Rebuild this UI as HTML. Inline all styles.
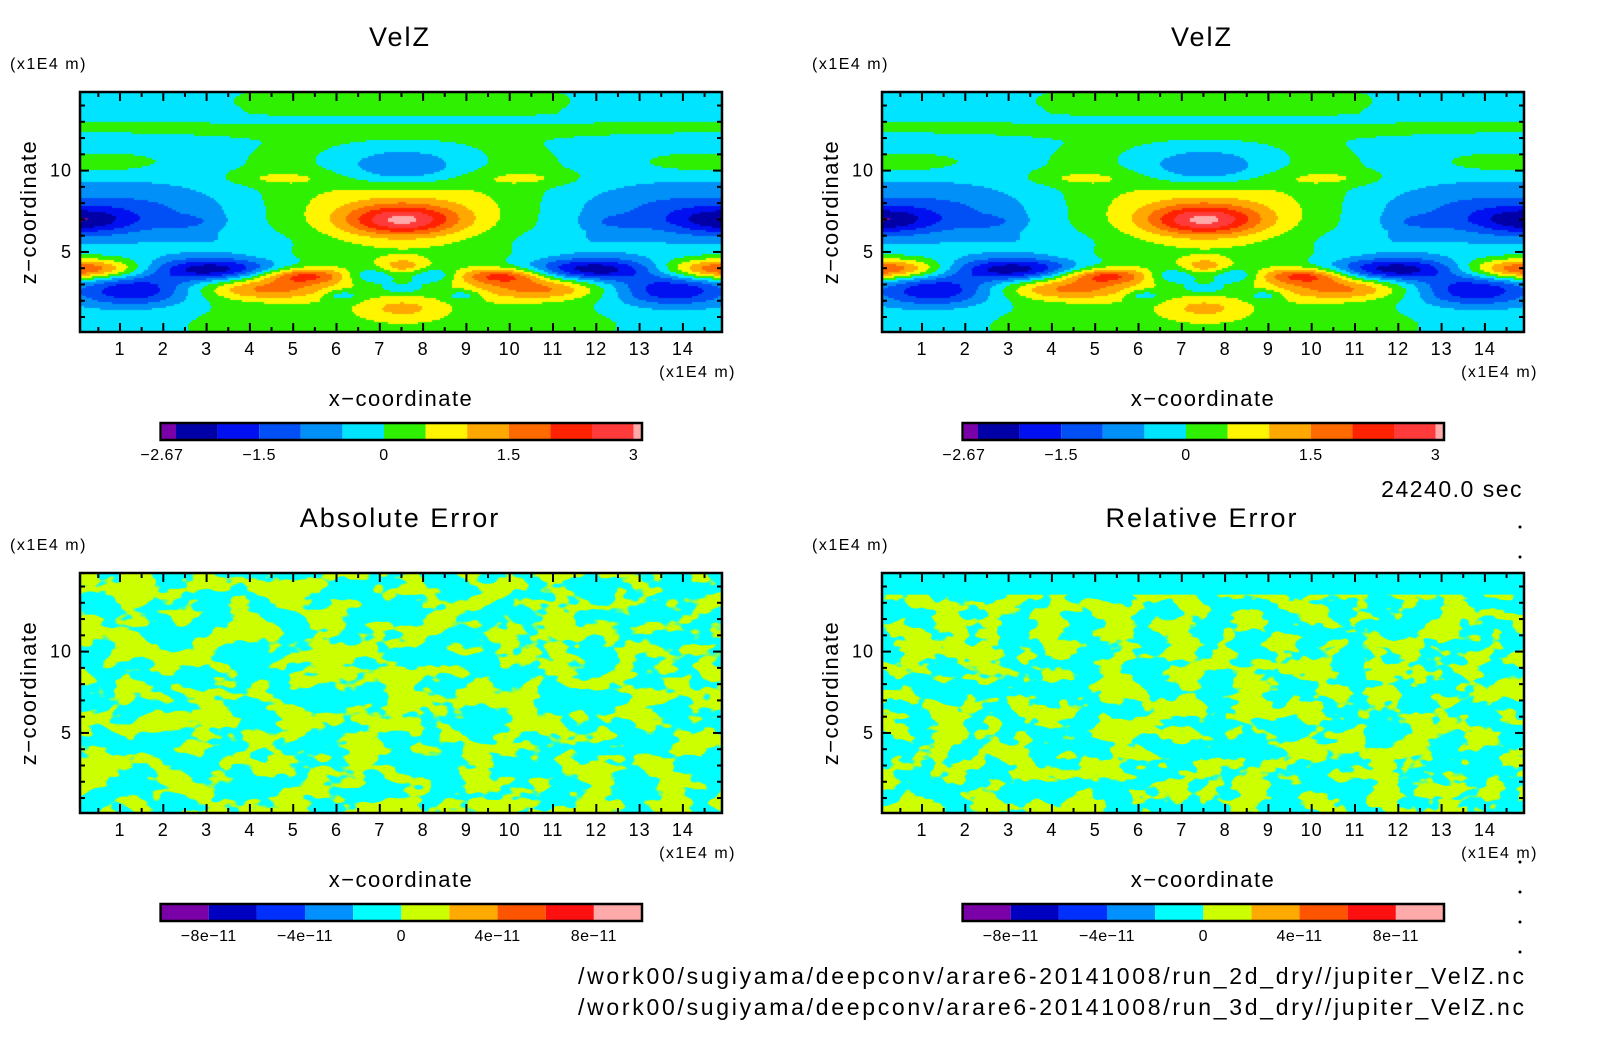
<!DOCTYPE html>
<html><head><meta charset="utf-8">
<style>
html,body{margin:0;padding:0;background:#fff;}
#wrap{position:relative;width:1604px;height:1054px;overflow:hidden;font-family:"Liberation Sans",sans-serif;}
canvas{position:absolute;}
svg{position:absolute;left:0;top:0;}
</style></head>
<body>
<div id="wrap">
<canvas id="cvTL" width="642" height="240" style="left:80px;top:92px"></canvas>
<canvas id="cvTR" width="642" height="240" style="left:882px;top:92px"></canvas>
<svg id="svg" width="1604" height="1054" xmlns="http://www.w3.org/2000/svg">
<defs>
<filter id="noiseA" x="0" y="0" width="100%" height="100%">
<feTurbulence type="fractalNoise" baseFrequency="0.026 0.045" numOctaves="3" seed="7" result="n"/>
<feColorMatrix in="n" type="matrix" values="0 0 0 0 0  0 0 0 0 0  0 0 0 0 0  24 0 0 0 -11.8" result="a"/>
<feFlood flood-color="#ccff00" result="f"/>
<feComposite in="f" in2="a" operator="in"/>
</filter>
<filter id="noiseB" x="0" y="0" width="100%" height="100%">
<feTurbulence type="fractalNoise" baseFrequency="0.03 0.05" numOctaves="3" seed="19" result="n"/>
<feColorMatrix in="n" type="matrix" values="0 0 0 0 0  0 0 0 0 0  0 0 0 0 0  24 0 0 0 -11.8" result="a"/>
<feFlood flood-color="#ccff00" result="f"/>
<feComposite in="f" in2="a" operator="in"/>
</filter>
</defs>
</svg>
</div>
<script>
// ---- data: VelZ field modelled as gaussian bumps (left half, mirrored about x=7.5)
const bumpX   = [7.5, 7.5, 7.5, 7.5, 7.5, 0.3, 0,   1.5, 2.5, 0,   3.1, 1.3, 5.2, 4.3, 7.5, 7.5, 7.5, 6.8, 6.1, 7.5, 7.5, 7.5, 4.6, 3.8];
const bumpZ   = [6.0, 0.5, 12.8,13.1,14.5,10.5,7.0, 7.6, 6.9, 4.0, 4.0, 2.7, 3.6, 2.8, 7.0, 7.8, 10.3,3.6, 2.4, 2.8, 4.2, 1.6, 9.6, 5.6];
const bumpAmp = [0.6, 0.3, 0.4, -0.7,0.3, 0.5, -1.6,-1.0,-0.5,2.4, -2.3,-1.8,1.9, 1.5, 2.3, 0.7, -1.3,-0.9,-0.8,-0.6,1.0, 0.8, 0.55,-0.35];
const bumpSx  = [3.5, 3.5, 20,  3.3, 3.0, 1.1, 0.9, 2.3, 0.5, 1.1, 1.1, 1.0, 0.7, 1.1, 0.9, 2.6, 1.0, 0.4, 0.3, 0.45,0.4, 0.55,0.7, 1.2];
const bumpSz  = [6.0, 1.5, 0.35,0.2, 0.8, 0.5, 0.6, 1.3, 0.3, 0.45,0.5, 0.7, 0.35,0.5, 0.65,1.3, 0.8, 0.35,0.25,0.25,0.35,0.4, 0.3, 0.6];
const baseValue = -0.25;
const velLevels = [-2.5,-2,-1.5,-1,-0.5,0,0.5,1,1.5,2,2.5,3];
const velColors = ["#7a00a8","#0000a6","#0010f0","#0050f5","#0090f8","#00e4ff","#2ef000","#fff500","#ffa800","#ff6a00","#ff2200","#ff3a3a","#ffaaaa"];
const velTickVals = [-2.67,-1.5,0,1.5,3];
const velTickLabels = ["\u22122.67","\u22121.5","0","1.5","3"];
const errColors = ["#7a00a8","#0000c0","#0030ff","#0090ff","#00ffff","#ccff00","#ffaa00","#ff5500","#ff1010","#ffaaaa"];
const errTickVals = [-8e-11,-4e-11,0,4e-11,8e-11];
const errTickLabels = ["\u22128e\u221211","\u22124e\u221211","0","4e\u221211","8e\u221211"];
const xTicks = [1,2,3,4,5,6,7,8,9,10,11,12,13,14];
const zTicks = [5,10];

const X0=76.7, XU=43.3, Z0=333.3, ZU=16.27;
function xs(x,ox){return ox+X0+XU*x;}
function zs(z,oy){return oy+Z0-ZU*z;}
const PL=80,PR=722,PT=92,PB=332;

function field(x,z){
  let v=baseValue;
  for(let i=0;i<bumpX.length;i++){
    const dz=(z-bumpZ[i])/bumpSz[i];
    let dx=(x-bumpX[i])/bumpSx[i];
    v+=bumpAmp[i]*Math.exp(-0.5*(dx*dx+dz*dz));
    if(bumpX[i]<7.4){
      dx=(x-(15-bumpX[i]))/bumpSx[i];
      v+=bumpAmp[i]*Math.exp(-0.5*(dx*dx+dz*dz));
    }
  }
  return v;
}
function hexRGB(h){return [parseInt(h.substr(1,2),16),parseInt(h.substr(3,2),16),parseInt(h.substr(5,2),16)];}
(function(){
  const c=document.getElementById('cvTL'),ctx=c.getContext('2d');
  const img=ctx.createImageData(642,240);
  const rgbs=velColors.map(hexRGB);
  for(let py=0;py<240;py+=2){
    for(let px=0;px<642;px+=2){
      const x=(px+PL-X0)/XU, z=(Z0-(py+PT))/ZU;
      const v=field(x,z);
      let k=0; while(k<velLevels.length && v>=velLevels[k]) k++;
      const col=rgbs[k];
      for(let a=0;a<2;a++)for(let b=0;b<2;b++){
        const i=((py+a)*642+px+b)*4;
        img.data[i]=col[0];img.data[i+1]=col[1];img.data[i+2]=col[2];img.data[i+3]=255;
      }
    }
  }
  ctx.putImageData(img,0,0);
  document.getElementById('cvTR').getContext('2d').drawImage(c,0,0);
})();

const NS="http://www.w3.org/2000/svg";
const svg=document.getElementById('svg');
function mk(tag,attrs,parent){
  const e=document.createElementNS(NS,tag);
  for(const k in attrs) e.setAttribute(k,attrs[k]);
  (parent||svg).appendChild(e);
  return e;
}
function txt(s,x,y,size,anchor,parent,ls){
  const t=mk('text',{x:x,y:y,'font-size':size,'text-anchor':anchor||'middle',fill:'#000','font-family':'Liberation Sans, sans-serif','letter-spacing':(ls||0)},parent);
  t.textContent=s;return t;
}

const panels=[
  {ox:0,oy:0,title:"VelZ",kind:"vel"},
  {ox:802,oy:0,title:"VelZ",kind:"vel"},
  {ox:0,oy:481,title:"Absolute Error",kind:"errA"},
  {ox:802,oy:481,title:"Relative Error",kind:"errB"}
];
panels.forEach((p,pi)=>{
  const g=mk('g',{});
  
  
  const ox=p.ox,oy=p.oy;
  if(p.kind!=="vel"){
    const bg=mk('rect',{x:ox+PL,y:oy+PT,width:PR-PL,height:PB-PT,fill:'#00ffff'},g);
    
    
    const nz=mk('rect',{x:ox+PL,y:oy+PT,width:PR-PL,height:PB-PT,fill:'#ccff00',filter:p.kind==="errA"?'url(#noiseA)':'url(#noiseB)'},g);
    
    
    if(p.kind==="errB"){
      const band=mk('rect',{x:ox+PL,y:oy+PT,width:PR-PL,height:zs(13.5,0)-PT,fill:'#00ffff'},g);
      
      
    }
  }
  const fr=mk('rect',{x:ox+PL,y:oy+PT,width:PR-PL,height:PB-PT,fill:'none',stroke:'#000','stroke-width':2.5},g);
  
  
  for(let x=0.5;x<14.95;x+=0.5){
    const X=xs(x,ox), L=(Math.abs(x-Math.round(x))<1e-6)?9:5;
    mk('line',{x1:X,x2:X,y1:oy+PB,y2:oy+PB-L,stroke:'#000','stroke-width':2},g);
    mk('line',{x1:X,x2:X,y1:oy+PT,y2:oy+PT+L,stroke:'#000','stroke-width':2},g);
  }
  for(let z=1;z<=14;z++){
    const Y=zs(z,oy), L=(z%5===0)?9:5;
    mk('line',{x1:ox+PL,x2:ox+PL+L,y1:Y,y2:Y,stroke:'#000','stroke-width':2},g);
    mk('line',{x1:ox+PR,x2:ox+PR-L,y1:Y,y2:Y,stroke:'#000','stroke-width':2},g);
  }
  xTicks.forEach(v=>{const t=txt(String(v),xs(v,ox),oy+355,18,'middle',g,1);
    
    });
  zTicks.forEach(v=>{const t=txt(String(v),ox+72,zs(v,oy)+6,18,'end',g,1);
    
    });
  let t=txt(p.title,ox+400,oy+46,27,'middle',g,2);
  
  
  t=txt("(x1E4 m)",ox+10,oy+69,16,'start',g,1.5);
  
  
  t=txt("(x1E4 m)",ox+736,oy+377,16,'end',g,1.5);
  
  
  t=txt("x\u2212coordinate",ox+401,oy+406,22,'middle',g,1.5);
  
  
  t=txt("z\u2212coordinate",0,0,22,'middle',g,1.5);
  t.setAttribute('transform','translate('+(ox+36)+','+(oy+212)+') rotate(-90)');
  
  
  const CB0=ox+160.6, CB1=ox+642, CT=oy+423, CH=17;
  const cb=mk('g',{},g);
  
  
  if(p.kind==="vel"){
    const vx=v=>ox+384+83.2*v;
    const edges=[-2.67].concat(velLevels).concat([3.1]);
    for(let i=0;i<velColors.length;i++){
      const a=Math.max(CB0,vx(edges[i])), b=Math.min(CB1,vx(edges[i+1]));
      const r=mk('rect',{x:a,y:CT,width:b-a,height:CH,fill:velColors[i]},cb);
      
      
    }
    velTickVals.forEach((v,i)=>{const tt=txt(velTickLabels[i],vx(v),oy+460,16,'middle',cb,0.5);
      
      });
  } else {
    const w=(CB1-CB0)/errColors.length;
    const ex=v=>CB0+(v+1e-10)/2e-10*(CB1-CB0);
    errColors.forEach((c,i)=>{
      const r=mk('rect',{x:CB0+i*w,y:CT,width:w,height:CH,fill:c},cb);
      
      
    });
    errTickVals.forEach((v,i)=>{const tt=txt(errTickLabels[i],ex(v),oy+460,16,'middle',cb,0.5);
      
      });
  }
  mk('rect',{x:CB0,y:CT,width:CB1-CB0,height:CH,fill:'none',stroke:'#000','stroke-width':2.5},cb);
});
let t=txt("24240.0 sec",1523,497,23,'end',null,1.5);


t=txt("/work00/sugiyama/deepconv/arare6-20141008/run_2d_dry//jupiter_VelZ.nc",1524,984,23,'end');
t.setAttribute('textLength','946');
t.setAttribute('lengthAdjust','spacing');


t=txt("/work00/sugiyama/deepconv/arare6-20141008/run_3d_dry//jupiter_VelZ.nc",1524,1015,23,'end');
t.setAttribute('textLength','946');
t.setAttribute('lengthAdjust','spacing');


[527,557,862,892,922,952].forEach(y=>{
  const d=mk('circle',{cx:1520,cy:y,r:1.5,fill:'#000'});
  
  
});
</script>
</body></html>
